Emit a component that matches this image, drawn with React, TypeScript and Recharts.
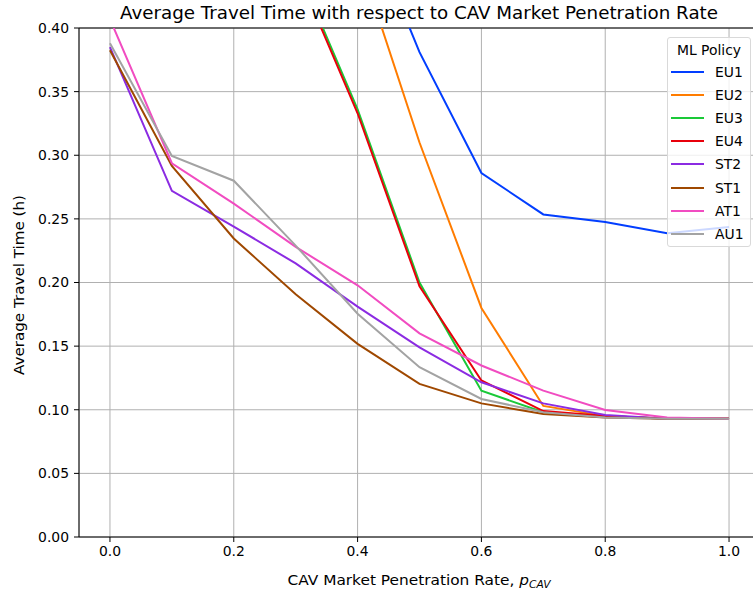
import React from 'react';
import { LineChart, Line, XAxis, YAxis, CartesianGrid, ReferenceLine, Customized } from 'recharts';

const rates = [0, 0.1, 0.2, 0.3, 0.4, 0.5, 0.6, 0.7, 0.8, 0.9, 1.0];

const EU1 = [0.92, 0.85, 0.76, 0.64, 0.5, 0.381, 0.286, 0.2535, 0.2475, 0.2387, 0.2437];
const EU2 = [0.88, 0.8, 0.7, 0.58, 0.458, 0.31, 0.18, 0.103, 0.095, 0.093, 0.093];
const EU3 = [0.75, 0.66, 0.56, 0.45, 0.336, 0.2, 0.115, 0.098, 0.095, 0.093, 0.093];
const EU4 = [0.75, 0.66, 0.56, 0.447, 0.333, 0.197, 0.123, 0.099, 0.095, 0.093, 0.093];
const ST2 = [0.385, 0.272, 0.244, 0.215, 0.181, 0.149, 0.1216, 0.105, 0.0959, 0.093, 0.093];
const ST1 = [0.3825, 0.2916, 0.2346, 0.1907, 0.1518, 0.1203, 0.105, 0.0967, 0.094, 0.093, 0.093];
const AT1 = [0.407, 0.2937, 0.262, 0.228, 0.1978, 0.16, 0.1348, 0.115, 0.0998, 0.094, 0.093];
const AU1 = [0.388, 0.2994, 0.28, 0.229, 0.1755, 0.1334, 0.1085, 0.098, 0.094, 0.093, 0.093];

const seriesNames = ['EU1', 'EU2', 'EU3', 'EU4', 'ST2', 'ST1', 'AT1', 'AU1'];
const seriesValues = [EU1, EU2, EU3, EU4, ST2, ST1, AT1, AU1];
const seriesColors = ['#023eff', '#ff7c00', '#1ac938', '#e8000b', '#8b2be2', '#9f4800', '#f14cc1', '#a3a3a3'];

const xTicks = [0, 0.2, 0.4, 0.6, 0.8, 1.0];
const yTicks = [0, 0.05, 0.1, 0.15, 0.2, 0.25, 0.3, 0.35, 0.4];

const titleText = 'Average Travel Time with respect to CAV Market Penetration Rate';
const xLabelText = 'CAV Market Penetration Rate, ';
const yLabelText = 'Average Travel Time (h)';
const legendTitle = 'ML Policy';

const data = rates.map((r, i) => {
  const row: Record<string, number> = { rate: r };
  seriesNames.forEach((n, k) => {
    row[n] = seriesValues[k][i];
  });
  return row;
});

const FONT = '"DejaVu Sans", sans-serif';

const Labels = () => (
  <g style={{ fontFamily: FONT }}>
    <text
      x={419}
      y={18.5}
      textAnchor="middle"
      fontSize={17.3}
      fill="#000"
      textLength={598}
      lengthAdjust="spacingAndGlyphs"
    >
      {titleText}
    </text>
    <text
      x={419}
      y={585}
      textAnchor="middle"
      fontSize={14.4}
      fill="#000"
      textLength={263}
      lengthAdjust="spacingAndGlyphs"
    >
      {xLabelText}
      <tspan fontStyle="italic">p</tspan>
      <tspan fontStyle="italic" fontSize={10} dy={3}>CAV</tspan>
    </text>
    <text
      x={24}
      y={285}
      textAnchor="middle"
      fontSize={14.2}
      fill="#000"
      textLength={180}
      lengthAdjust="spacingAndGlyphs"
      transform="rotate(-90 24 285)"
    >
      {yLabelText}
    </text>
  </g>
);

export default function App() {
  return (
    <div
      style={{
        position: 'absolute',
        left: 0,
        top: 0,
        width: 753,
        height: 592,
        overflow: 'hidden',
        background: '#fff',
      }}
    >
      <LineChart width={760} height={592} data={data} margin={{ top: 28, right: 0, bottom: 0, left: 0 }}>
        <CartesianGrid stroke="#b0b0b0" strokeWidth={1} />
        <XAxis
          dataKey="rate"
          type="number"
          domain={[-0.05, 1.05]}
          ticks={xTicks}
          allowDataOverflow
          height={55}
          tickFormatter={(v: number) => v.toFixed(1)}
          tick={{ fill: '#000', fontSize: 13.9, fontFamily: FONT }}
          tickSize={5}
          tickMargin={4}
          stroke="#000"
          axisLine={{ stroke: '#000' }}
          tickLine={{ stroke: '#000' }}
        />
        <YAxis
          type="number"
          domain={[0, 0.4]}
          ticks={yTicks}
          allowDataOverflow
          width={79}
          tickFormatter={(v: number) => v.toFixed(2)}
          tick={{ fill: '#000', fontSize: 13.9, fontFamily: FONT }}
          tickSize={5}
          tickMargin={5}
          stroke="#000"
          axisLine={{ stroke: '#000' }}
          tickLine={{ stroke: '#000' }}
        />
        <ReferenceLine y={0.4} stroke="#000" strokeWidth={1} />
        {seriesNames.map((n, k) => (
          <Line
            key={n}
            dataKey={n}
            stroke={seriesColors[k]}
            strokeWidth={2}
            dot={false}
            activeDot={false}
            isAnimationActive={false}
            type="linear"
          />
        ))}
        <Customized component={Labels} />
      </LineChart>
      <div
        style={{
          position: 'absolute',
          left: 667,
          top: 37,
          width: 84,
          height: 210,
          boxSizing: 'border-box',
          border: '1px solid #d9d9d9',
          borderRadius: 3,
          background: 'rgba(255,255,255,0.8)',
          fontFamily: FONT,
          fontSize: 13.9,
          color: '#000',
        }}
      >
        <div style={{ position: 'absolute', left: 0, width: 82, top: 3, textAlign: 'center', lineHeight: '18px' }}>
          {legendTitle}
        </div>
        {seriesNames.map((n, k) => (
          <div key={n} style={{ position: 'absolute', left: 0, top: 25 + k * 23.1, height: 18, width: 82 }}>
            <div
              style={{
                position: 'absolute',
                left: 3,
                top: 8,
                width: 33,
                height: 2,
                background: seriesColors[k],
              }}
            />
            <div style={{ position: 'absolute', left: 47, top: 0, lineHeight: '18px' }}>{n}</div>
          </div>
        ))}
      </div>
    </div>
  );
}
